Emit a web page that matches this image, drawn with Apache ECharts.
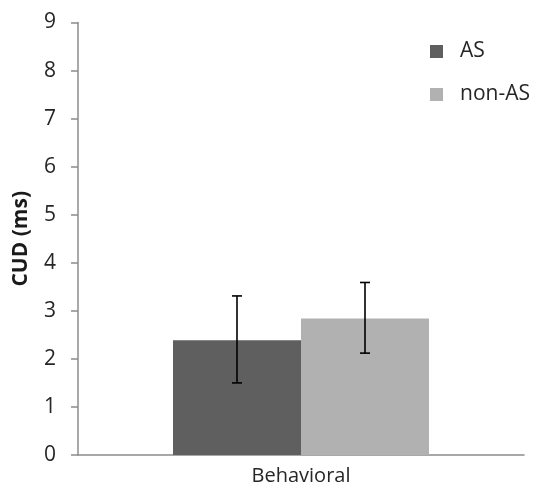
<!DOCTYPE html>
<html>
<head>
<meta charset="utf-8">
<script src="https://cdn.jsdelivr.net/npm/echarts@6/dist/echarts.min.js"></script>
<style>
  html, body { margin: 0; padding: 0; background: #fff; }
  #chart { width: 536px; height: 495px; }
</style>
</head>
<body>
<div id="chart"></div>
<script>
// data
const categories = ['Behavioral']
const seriesNames = ['AS', 'non-AS']
const asValues = [2.39]
const nonAsValues = [2.84]
const asErrLow = [1.50]
const asErrHigh = [3.31]
const nonAsErrLow = [2.12]
const nonAsErrHigh = [3.59]

const colors = ['#5f5f5f', '#b1b1b1']
const catGap = 0.426

const chart = echarts.init(document.getElementById('chart'))

// error bar for one series, shifted to the middle of its bar
function errorBar(sign) {
  return function (params, api) {
    const cat = api.value(0)
    const lo = api.coord([cat, api.value(1)])
    const hi = api.coord([cat, api.value(2)])
    const band = api.size([1, 0])[0]
    const x = lo[0] + sign * band * (1 - catGap) / 4
    const half = 5
    const style = { stroke: '#000', lineWidth: 1.6 }
    return {
      type: 'group',
      children: [
        { type: 'line', shape: { x1: x, y1: lo[1], x2: x, y2: hi[1] }, style: style },
        { type: 'line', shape: { x1: x - half, y1: lo[1], x2: x + half, y2: lo[1] }, style: style },
        { type: 'line', shape: { x1: x - half, y1: hi[1], x2: x + half, y2: hi[1] }, style: style }
      ]
    }
  }
}

const option = {
  animation: false,
  textStyle: { fontFamily: 'Open Sans' },
  grid: { left: 78, right: 12, top: 22.5, bottom: 40 },
  legend: {
    orient: 'vertical',
    left: 425,
    top: 36,
    itemWidth: 13,
    itemHeight: 13,
    itemGap: 22,
    icon: 'rect',
    data: seriesNames,
    textStyle: { fontSize: 21, color: '#262626', fontFamily: 'Open Sans', padding: [0, 0, 0, 12] }
  },
  xAxis: {
    type: 'category',
    data: categories,
    axisLine: { lineStyle: { color: '#8c8c8c', width: 1.5 } },
    axisTick: { length: 7, lineStyle: { color: '#8c8c8c', width: 1.5 } },
    axisLabel: { fontSize: 20, color: '#262626', margin: 11 }
  },
  yAxis: {
    type: 'value',
    min: 0,
    max: 9,
    interval: 1,
    name: 'CUD (ms)',
    nameLocation: 'middle',
    nameGap: 46,
    nameTextStyle: { fontSize: 21, fontWeight: 'bold', color: '#1a1a1a' },
    axisLine: { show: true, lineStyle: { color: '#8c8c8c', width: 1.5 } },
    axisTick: { show: true, length: 7, lineStyle: { color: '#8c8c8c', width: 1.5 } },
    axisLabel: { fontSize: 21, color: '#262626', margin: 22 },
    splitLine: { show: false }
  },
  series: [
    {
      name: seriesNames[0],
      type: 'bar',
      data: asValues,
      barGap: '0%',
      barCategoryGap: (catGap * 100) + '%',
      itemStyle: { color: colors[0] }
    },
    {
      name: seriesNames[1],
      type: 'bar',
      data: nonAsValues,
      barGap: '0%',
      barCategoryGap: (catGap * 100) + '%',
      itemStyle: { color: colors[1] }
    },
    {
      type: 'custom',
      renderItem: errorBar(-1),
      data: categories.map((c, i) => [i, asErrLow[i], asErrHigh[i]]),
      z: 10
    },
    {
      type: 'custom',
      renderItem: errorBar(1),
      data: categories.map((c, i) => [i, nonAsErrLow[i], nonAsErrHigh[i]]),
      z: 10
    }
  ]
}

chart.setOption(option)
</script>
</body>
</html>
